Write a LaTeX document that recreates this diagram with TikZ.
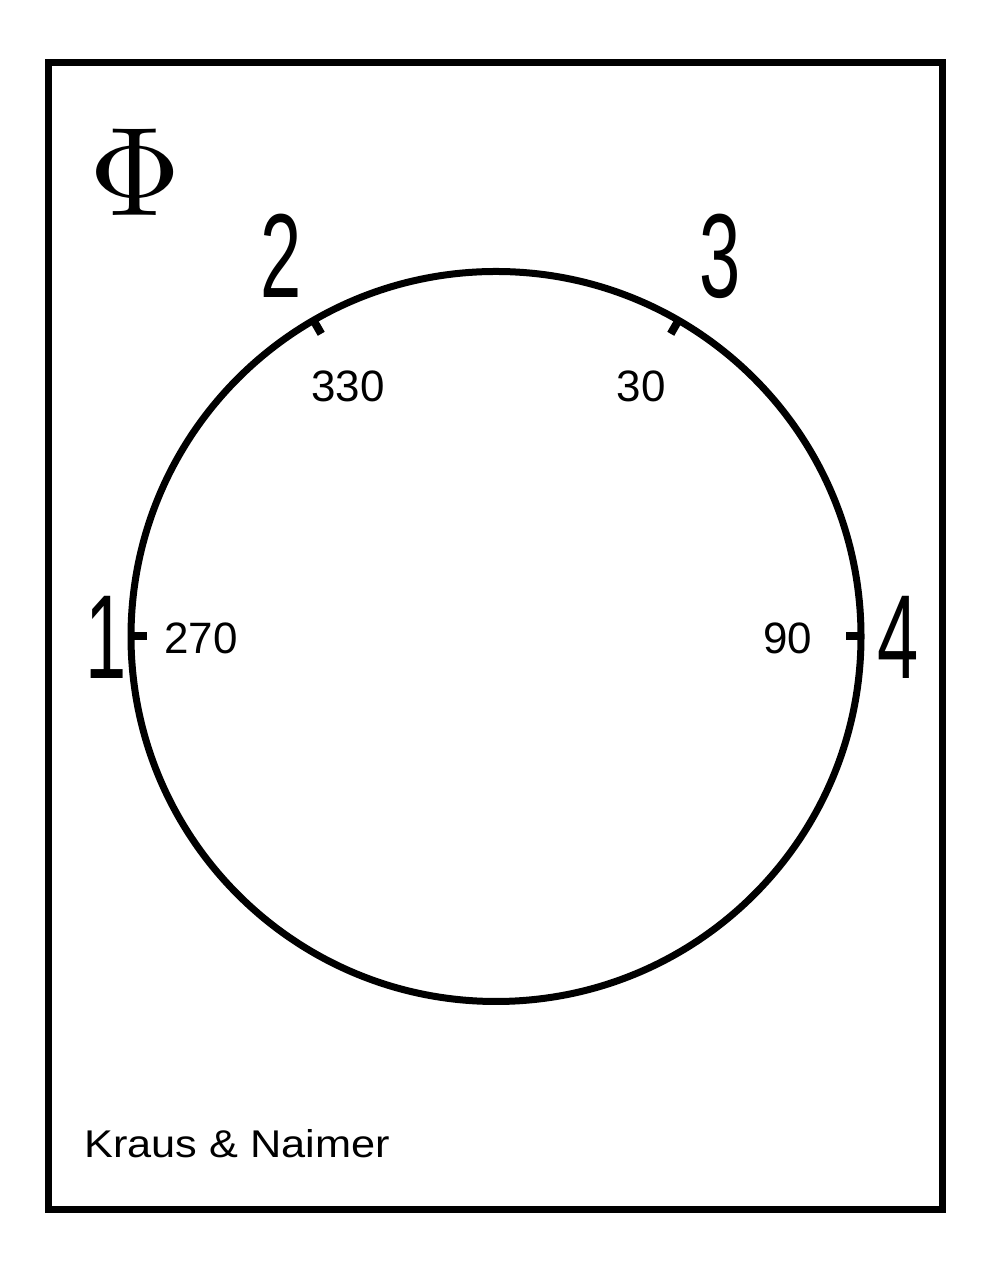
\documentclass[tikz,border=0pt]{standalone}
\usepackage{fontspec}
\newfontfamily\dialfont{Liberation Sans}
\usetikzlibrary{calc}

\newcommand{\pnum}[1]{\scalebox{0.62}[1]{#1}}

\begin{document}
\begin{tikzpicture}
\tikzset{
  rim/.style={line width=0.14cm},
  tick/.style={line width=0.16cm},
  posnum/.style={font=\dialfont\fontsize{68}{68}\selectfont, inner sep=0pt},
  deg/.style={font=\dialfont\fontsize{25}{25}\selectfont, inner sep=0pt}
  };

\def\r{7.3}

\useasboundingbox (0,0) rectangle (19.84,25.5);
\draw[rim] (0.97,1.30) rectangle (18.84,24.24);

% dial
\coordinate (C) at (9.92,12.77);
\draw[rim] (C) circle (\r);

\foreach \a/\n in {180/1, 120/2, 60/3, 0/4} {
  \coordinate (T\n) at ($(C)+(\a:\r)$);
  \coordinate (I\n) at ($(C)+(\a:\r-0.31)$);
  \draw[tick] (T\n) -- (I\n);
}

\node[posnum] (P1) at (2.12,12.76)  {\pnum{1}};
\node[posnum] (P2) at (5.62,20.38)  {\pnum{2}};
\node[posnum] (P3) at (14.40,20.38) {\pnum{3}};
\node[posnum] (P4) at (17.96,12.76) {\pnum{4}};

\node[deg] (D270) at (4.02,12.73) {270};
\node[deg] (D330) at (6.96,17.78) {330};
\node[deg] (D30)  at (12.82,17.78) {30};
\node[deg] (D90)  at (15.75,12.73) {90};

\node[inner sep=0pt] (Phi) at (2.71,22.05) {\scalebox{7.2}{$\Phi$}};

\node[font=\dialfont\fontsize{22}{22}\selectfont, anchor=west, inner sep=0pt] (KN) at (1.68,2.62) {\scalebox{1.12}[1]{Kraus \& Naimer}};

\end{tikzpicture}
\end{document}
